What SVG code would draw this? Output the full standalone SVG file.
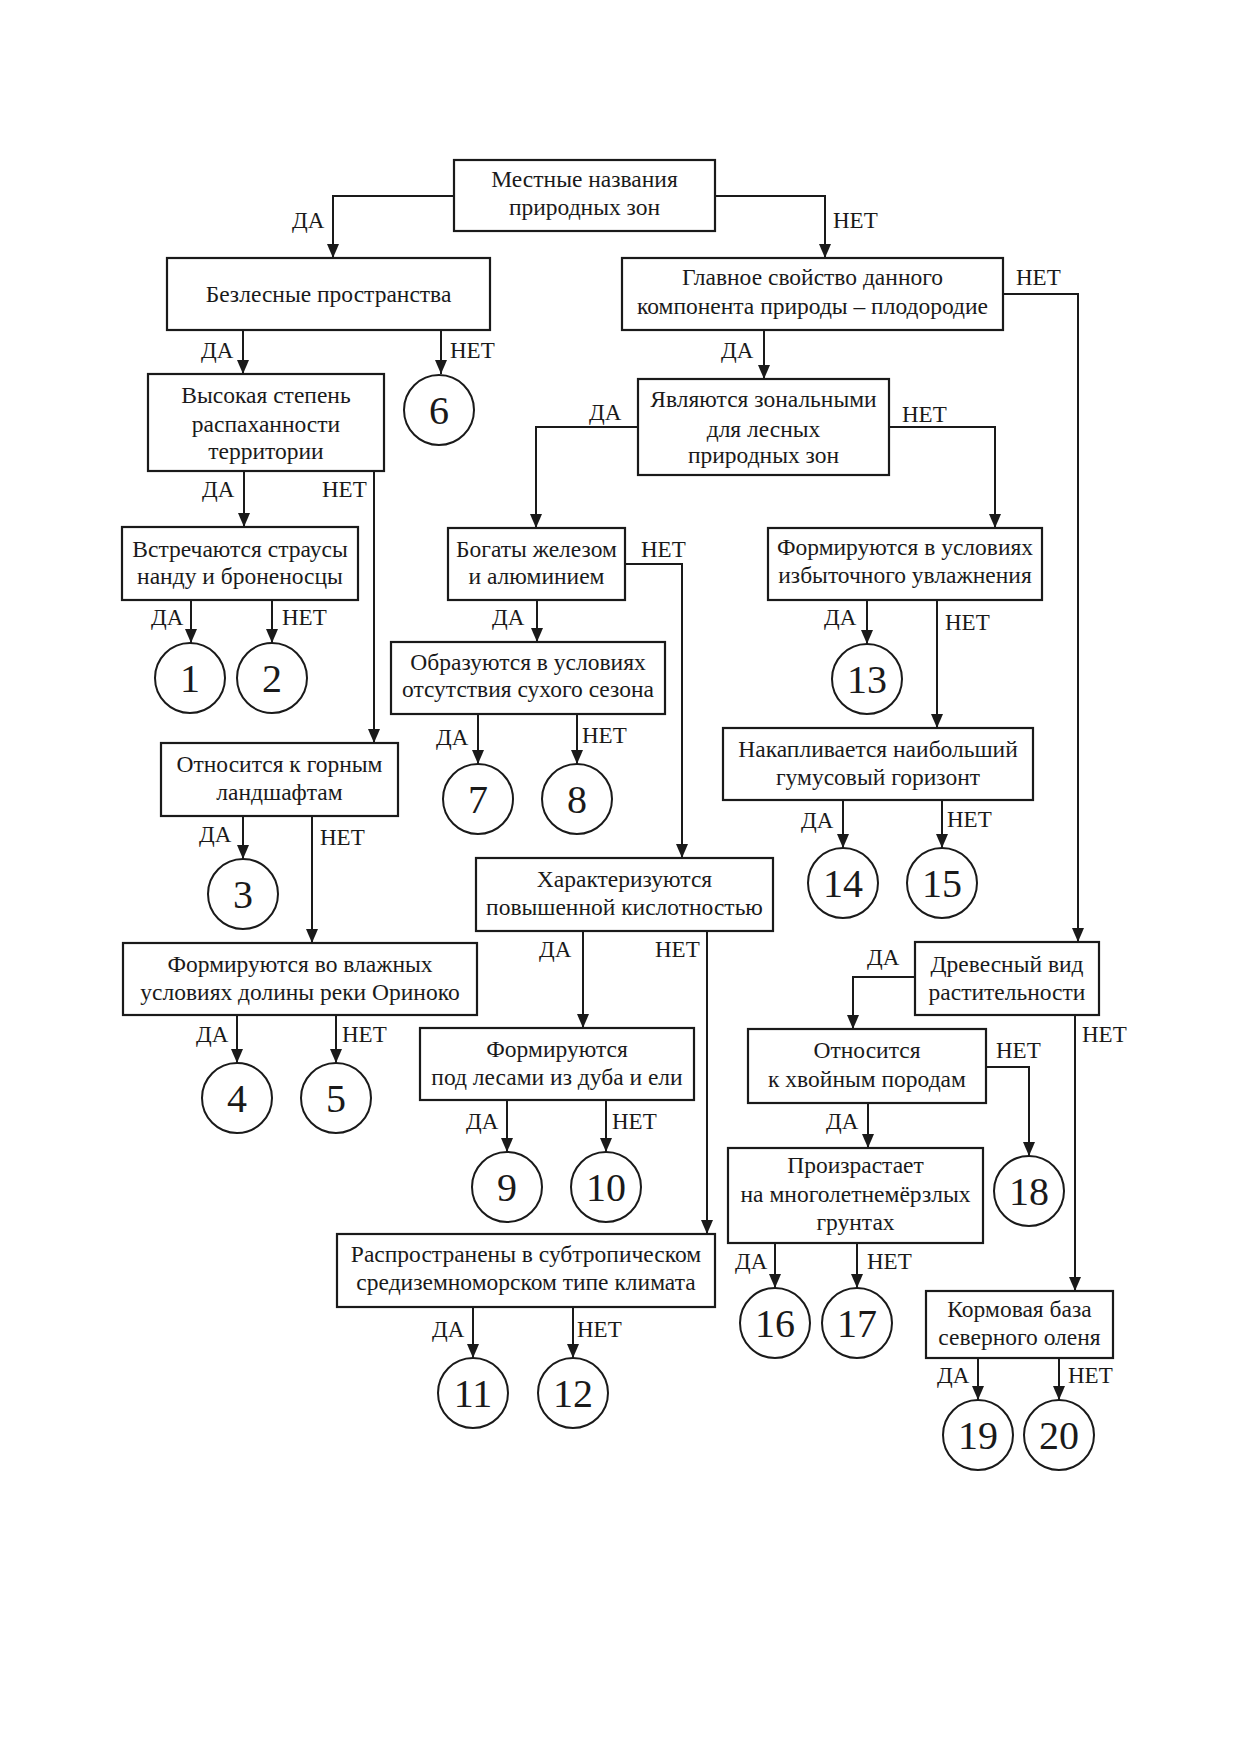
<svg xmlns="http://www.w3.org/2000/svg" width="1240" height="1754" viewBox="0 0 1240 1754">
<style>
.box{fill:#fff;stroke:#1a1a1a;stroke-width:2.2}
.c{fill:#fff;stroke:#1a1a1a;stroke-width:2}
.t{font-family:"Liberation Serif","Times New Roman",serif;font-size:23.5px;fill:#1a1a1a;text-anchor:middle}
.n{font-family:"Liberation Serif","Times New Roman",serif;font-size:40px;fill:#1a1a1a;text-anchor:middle}
.l{font-family:"Liberation Serif","Times New Roman",serif;font-size:23px;fill:#1a1a1a}
.e{fill:none;stroke:#1a1a1a;stroke-width:2;marker-end:url(#ar)}
</style>
<defs>
<marker id="ar" markerUnits="userSpaceOnUse" markerWidth="14" markerHeight="12" viewBox="0 0 14 12" refX="14" refY="6" orient="auto">
<path d="M0,0 L14,6 L0,12 Z" fill="#1a1a1a"/>
</marker>
</defs>
<rect width="1240" height="1754" fill="#fff"/>
<g id="connectors">
<path class="e" d="M454,196 H333 V258"/>
<path class="e" d="M715,196 H825 V258"/>
<path class="e" d="M243,330 V374"/>
<path class="e" d="M441,330 V374"/>
<path class="e" d="M764,330 V379"/>
<path class="e" d="M1003,294 H1078 V942"/>
<path class="e" d="M244,471 V527"/>
<path class="e" d="M374,471 V743"/>
<path class="e" d="M638,427 H536 V528"/>
<path class="e" d="M889,427 H995 V528"/>
<path class="e" d="M191,600 V643"/>
<path class="e" d="M272,600 V643"/>
<path class="e" d="M537,600 V642"/>
<path class="e" d="M625,564 H682 V858"/>
<path class="e" d="M867,600 V644"/>
<path class="e" d="M937,600 V728"/>
<path class="e" d="M478,714 V764"/>
<path class="e" d="M577,714 V764"/>
<path class="e" d="M243,816 V859"/>
<path class="e" d="M312,816 V943"/>
<path class="e" d="M843,800 V848"/>
<path class="e" d="M942,800 V848"/>
<path class="e" d="M583,931 V1028"/>
<path class="e" d="M707,931 V1234"/>
<path class="e" d="M237,1015 V1063"/>
<path class="e" d="M336,1015 V1063"/>
<path class="e" d="M915,977 H853 V1029"/>
<path class="e" d="M1075,1015 V1291"/>
<path class="e" d="M507,1100 V1152"/>
<path class="e" d="M606,1100 V1152"/>
<path class="e" d="M986,1067 H1029 V1156"/>
<path class="e" d="M868,1103 V1148"/>
<path class="e" d="M473,1307 V1358"/>
<path class="e" d="M573,1307 V1358"/>
<path class="e" d="M775,1243 V1288"/>
<path class="e" d="M857,1243 V1288"/>
<path class="e" d="M978,1358 V1400"/>
<path class="e" d="M1059,1358 V1400"/>
</g>
<g id="labels">
<text class="l" x="292" y="228">ДА</text>
<text class="l" x="833" y="228">НЕТ</text>
<text class="l" x="201" y="358">ДА</text>
<text class="l" x="450" y="358">НЕТ</text>
<text class="l" x="721" y="358">ДА</text>
<text class="l" x="1016" y="285">НЕТ</text>
<text class="l" x="589" y="420">ДА</text>
<text class="l" x="902" y="422">НЕТ</text>
<text class="l" x="202" y="497">ДА</text>
<text class="l" x="322" y="497">НЕТ</text>
<text class="l" x="151" y="625">ДА</text>
<text class="l" x="282" y="625">НЕТ</text>
<text class="l" x="492" y="625">ДА</text>
<text class="l" x="641" y="557">НЕТ</text>
<text class="l" x="824" y="625">ДА</text>
<text class="l" x="945" y="630">НЕТ</text>
<text class="l" x="436" y="745">ДА</text>
<text class="l" x="582" y="743">НЕТ</text>
<text class="l" x="199" y="842">ДА</text>
<text class="l" x="320" y="845">НЕТ</text>
<text class="l" x="801" y="828">ДА</text>
<text class="l" x="947" y="827">НЕТ</text>
<text class="l" x="539" y="957">ДА</text>
<text class="l" x="655" y="957">НЕТ</text>
<text class="l" x="196" y="1042">ДА</text>
<text class="l" x="342" y="1042">НЕТ</text>
<text class="l" x="867" y="965">ДА</text>
<text class="l" x="1082" y="1042">НЕТ</text>
<text class="l" x="996" y="1058">НЕТ</text>
<text class="l" x="466" y="1129">ДА</text>
<text class="l" x="612" y="1129">НЕТ</text>
<text class="l" x="826" y="1129">ДА</text>
<text class="l" x="432" y="1337">ДА</text>
<text class="l" x="577" y="1337">НЕТ</text>
<text class="l" x="735" y="1269">ДА</text>
<text class="l" x="867" y="1269">НЕТ</text>
<text class="l" x="937" y="1383">ДА</text>
<text class="l" x="1068" y="1383">НЕТ</text>
</g>
<g id="n_top"><rect class="box" x="454" y="160" width="261" height="71"/><text class="t" x="584.5" y="187">Местные названия</text><text class="t" x="584.5" y="215">природных зон</text></g>
<g id="n_bezles"><rect class="box" x="167" y="258" width="323" height="72"/><text class="t" x="328.5" y="302">Безлесные пространства</text></g>
<g id="n_glavnoe"><rect class="box" x="622" y="258" width="381" height="72"/><text class="t" x="812.5" y="285">Главное свойство данного</text><text class="t" x="812.5" y="314">компонента природы – плодородие</text></g>
<g id="n_vysokaya"><rect class="box" x="148" y="374" width="236" height="97"/><text class="t" x="266" y="403">Высокая степень</text><text class="t" x="266" y="432">распаханности</text><text class="t" x="266" y="459">территории</text></g>
<g id="n_yavl"><rect class="box" x="638" y="379" width="251" height="96"/><text class="t" x="763.5" y="407">Являются зональными</text><text class="t" x="763.5" y="437">для лесных</text><text class="t" x="763.5" y="463">природных зон</text></g>
<g id="n_vstrech"><rect class="box" x="122" y="527" width="236" height="73"/><text class="t" x="240" y="557">Встречаются страусы</text><text class="t" x="240" y="584">нанду и броненосцы</text></g>
<g id="n_bogaty"><rect class="box" x="448" y="528" width="177" height="72"/><text class="t" x="536.5" y="557">Богаты железом</text><text class="t" x="536.5" y="584">и алюминием</text></g>
<g id="n_form_usl"><rect class="box" x="768" y="528" width="274" height="72"/><text class="t" x="905" y="555">Формируются в условиях</text><text class="t" x="905" y="583">избыточного увлажнения</text></g>
<g id="n_obraz"><rect class="box" x="391" y="642" width="274" height="72"/><text class="t" x="528" y="670">Образуются в условиях</text><text class="t" x="528" y="697">отсутствия сухого сезона</text></g>
<g id="n_gornym"><rect class="box" x="161" y="743" width="237" height="73"/><text class="t" x="279.5" y="772">Относится к горным</text><text class="t" x="279.5" y="800">ландшафтам</text></g>
<g id="n_nakapl"><rect class="box" x="723" y="728" width="310" height="72"/><text class="t" x="878" y="757">Накапливается наибольший</text><text class="t" x="878" y="785">гумусовый горизонт</text></g>
<g id="n_harakt"><rect class="box" x="476" y="858" width="297" height="73"/><text class="t" x="624.5" y="887">Характеризуются</text><text class="t" x="624.5" y="915">повышенной кислотностью</text></g>
<g id="n_vlazh"><rect class="box" x="123" y="943" width="354" height="72"/><text class="t" x="300" y="972">Формируются во влажных</text><text class="t" x="300" y="1000">условиях долины реки Ориноко</text></g>
<g id="n_drev"><rect class="box" x="915" y="942" width="184" height="73"/><text class="t" x="1007" y="972">Древесный вид</text><text class="t" x="1007" y="1000">растительности</text></g>
<g id="n_pod"><rect class="box" x="420" y="1028" width="274" height="72"/><text class="t" x="557" y="1057">Формируются</text><text class="t" x="557" y="1085">под лесами из дуба и ели</text></g>
<g id="n_hvoy"><rect class="box" x="748" y="1029" width="238" height="74"/><text class="t" x="867" y="1058">Относится</text><text class="t" x="867" y="1087">к хвойным породам</text></g>
<g id="n_proizr"><rect class="box" x="728" y="1148" width="255" height="95"/><text class="t" x="855.5" y="1173">Произрастает</text><text class="t" x="855.5" y="1202">на многолетнемёрзлых</text><text class="t" x="855.5" y="1230">грунтах</text></g>
<g id="n_rasp"><rect class="box" x="337" y="1234" width="378" height="73"/><text class="t" x="526" y="1262">Распространены в субтропическом</text><text class="t" x="526" y="1290">средиземноморском типе климата</text></g>
<g id="n_korm"><rect class="box" x="926" y="1291" width="187" height="67"/><text class="t" x="1019.5" y="1317">Кормовая база</text><text class="t" x="1019.5" y="1345">северного оленя</text></g>
<g id="r1"><circle class="c" cx="190" cy="678" r="35"/><text class="n" x="190" y="692">1</text></g>
<g id="r2"><circle class="c" cx="272" cy="678" r="35"/><text class="n" x="272" y="692">2</text></g>
<g id="r3"><circle class="c" cx="243" cy="894" r="35"/><text class="n" x="243" y="908">3</text></g>
<g id="r4"><circle class="c" cx="237" cy="1098" r="35"/><text class="n" x="237" y="1112">4</text></g>
<g id="r5"><circle class="c" cx="336" cy="1098" r="35"/><text class="n" x="336" y="1112">5</text></g>
<g id="r6"><circle class="c" cx="439" cy="410" r="35"/><text class="n" x="439" y="424">6</text></g>
<g id="r7"><circle class="c" cx="478" cy="799" r="35"/><text class="n" x="478" y="813">7</text></g>
<g id="r8"><circle class="c" cx="577" cy="799" r="35"/><text class="n" x="577" y="813">8</text></g>
<g id="r9"><circle class="c" cx="507" cy="1187" r="35"/><text class="n" x="507" y="1201">9</text></g>
<g id="r10"><circle class="c" cx="606" cy="1187" r="35"/><text class="n" x="606" y="1201">10</text></g>
<g id="r11"><circle class="c" cx="473" cy="1393" r="35"/><text class="n" x="473" y="1407">11</text></g>
<g id="r12"><circle class="c" cx="573" cy="1393" r="35"/><text class="n" x="573" y="1407">12</text></g>
<g id="r13"><circle class="c" cx="867" cy="679" r="35"/><text class="n" x="867" y="693">13</text></g>
<g id="r14"><circle class="c" cx="843" cy="883" r="35"/><text class="n" x="843" y="897">14</text></g>
<g id="r15"><circle class="c" cx="942" cy="883" r="35"/><text class="n" x="942" y="897">15</text></g>
<g id="r16"><circle class="c" cx="775" cy="1323" r="35"/><text class="n" x="775" y="1337">16</text></g>
<g id="r17"><circle class="c" cx="857" cy="1323" r="35"/><text class="n" x="857" y="1337">17</text></g>
<g id="r18"><circle class="c" cx="1029" cy="1191" r="35"/><text class="n" x="1029" y="1205">18</text></g>
<g id="r19"><circle class="c" cx="978" cy="1435" r="35"/><text class="n" x="978" y="1449">19</text></g>
<g id="r20"><circle class="c" cx="1059" cy="1435" r="35"/><text class="n" x="1059" y="1449">20</text></g>
</svg>
